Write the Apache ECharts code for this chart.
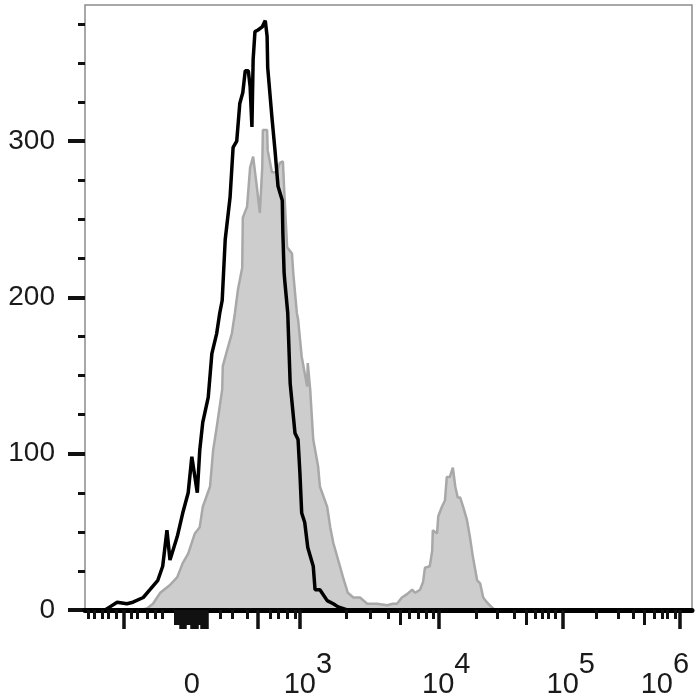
<!DOCTYPE html>
<html>
<head>
<meta charset="utf-8">
<script src="https://cdn.jsdelivr.net/npm/echarts@6/dist/echarts.min.js"></script>
<style>
  html, body { margin: 0; padding: 0; background: #fff; }
  #chart { width: 700px; height: 700px; }
</style>
</head>
<body>
<div id="chart"></div>
<script>
// x is in display channels (0..1000, biexponential display), y is event count
var unstainedX = [0, 33, 41, 53, 69, 79, 96, 107, 120, 128, 135, 140, 152, 161, 170, 176, 185, 189, 194, 203, 209, 217, 222, 226, 231, 239, 244, 250, 255, 260, 264, 269, 272, 275, 277, 280, 285, 292, 297, 300, 301, 308, 313, 318, 325, 326, 328, 329, 334, 338, 346, 351, 354, 357, 362, 367, 376, 379, 387, 399, 409, 417, 432, 1000];
var unstainedY = [0, 0, 2, 5, 4, 5, 8, 13, 19, 28, 51, 32, 47, 62, 75, 98, 75, 102, 120, 136, 164, 177, 190, 198, 237, 264, 296, 300, 324, 331, 345, 345, 335, 309, 352, 370, 371, 373, 377, 367, 347, 315, 294, 271, 262, 241, 216, 211, 190, 145, 113, 109, 88, 62, 56, 40, 28, 13, 13, 6, 4, 2, 0, 0];

var stainedX = [0, 91, 102, 112, 124, 140, 152, 161, 170, 181, 189, 194, 206, 211, 217, 226, 227, 234, 242, 247, 252, 259, 260, 267, 272, 277, 283, 288, 292, 293, 300, 301, 308, 316, 321, 326, 329, 333, 341, 343, 349, 351, 357, 366, 367, 371, 376, 384, 387, 399, 404, 409, 420, 425, 433, 442, 453, 465, 481, 498, 507, 514, 522, 530, 539, 544, 552, 557, 560, 568, 572, 573, 580, 582, 588, 593, 596, 601, 606, 610, 614, 618, 623, 629, 634, 639, 646, 651, 656, 662, 667, 675, 1000];
var stainedY = [0, 0, 1, 4, 11, 16, 21, 30, 36, 49, 53, 66, 79, 102, 117, 141, 156, 166, 177, 190, 205, 219, 251, 258, 283, 290, 271, 254, 283, 307, 307, 294, 280, 280, 286, 287, 262, 232, 228, 216, 190, 186, 162, 143, 158, 141, 109, 92, 79, 66, 53, 43, 28, 21, 11, 8, 8, 4, 4, 3, 4, 4, 8, 10, 13, 11, 13, 18, 27, 28, 38, 51, 49, 60, 66, 70, 85, 85, 91, 79, 72, 72, 66, 58, 47, 34, 19, 17, 8, 5, 3, 0, 0];

// axis ticks, in the same display channels
var xMajorTicks = [64, 157, 159, 161, 163, 165, 176, 178, 180, 182, 184, 193, 195, 197, 199, 201, 285, 354, 582, 787, 980];
var xMediumTicks = [148, 150, 152, 154, 156, 167, 169, 171, 173, 175, 186, 188, 190, 192, 519, 727, 922];
var xMinorTicks = [5, 16, 28, 38, 51, 76, 86, 102, 115, 128, 222, 242, 267, 305, 318, 333, 346, 430, 470, 499, 534, 549, 562, 573, 644, 679, 707, 741, 753, 763, 774, 843, 878, 903, 937, 951, 960, 972];
var xLabelPos = [176, 354, 582, 787, 980];
var xLabelText = ['0', '10^3', '10^4', '10^5', '10^6'];

var yMajorTicks = [0, 100, 200, 300];
var yMinorTicks = [25, 50, 75, 125, 150, 175, 225, 250, 275, 325, 350, 375];

var X_MIN = 0, X_MAX = 1000, Y_MAX = 387;
var FONT = '"Liberation Sans", Arial, sans-serif';
var FS = 29;

function pairs(xs, ys) {
  return xs.map(function (x, i) { return [x, ys[i]]; });
}

function tickAxis(values, len, width, extra) {
  var ax = {
    type: 'value', position: 'bottom', min: X_MIN, max: X_MAX, z: 10,
    axisLine: { show: false },
    splitLine: { show: false },
    axisTick: { show: true, inside: false, length: len, customValues: values,
      lineStyle: { color: '#111', width: width } },
    axisLabel: { show: false }
  };
  return Object.assign(ax, extra || {});
}

var txt = { fontSize: FS, lineHeight: FS, fontFamily: FONT, color: '#1a1a1a' };
function rs(o) { return Object.assign({}, txt, o); }

var xLabel = {
  show: true,
  customValues: xLabelPos,
  margin: 50,
  formatter: function (v) {
    var i = xLabelPos.indexOf(v);
    var t = xLabelText[i];
    if (t.indexOf('^') < 0) return '{b|' + t + '}';
    var parts = t.split('^');
    var last = i === xLabelPos.length - 1;
    return (last ? '' : '{sp| }') + '{b|' + parts[0] + '}{e|' + parts[1] + '}' + (last ? '{pr| }' : '');
  },
  rich: {
    sp: rs({ width: 16, padding: [20, 0, 0, 0] }),
    pr: rs({ width: 30, padding: [20, 0, 0, 0] }),
    b: rs({ padding: [20, 0, 0, 0] }),
    e: rs({ padding: [0, 0, 20, 0] })
  }
};

var chart = echarts.init(document.getElementById('chart'), null, { renderer: 'canvas' });
chart.setOption({
  animation: false,
  backgroundColor: '#ffffff',
  grid: {
    left: 85, right: 8, top: 5, bottom: 90,
    containLabel: false, outerBoundsMode: 'none',
    show: true, borderColor: '#8c8c8c', borderWidth: 1.5, backgroundColor: '#fff'
  },
  xAxis: [
    tickAxis(xMajorTicks, 19, 3.5, {
      axisLine: { show: true, onZero: false, lineStyle: { color: '#000', width: 5 } },
      axisLabel: xLabel
    }),
    tickAxis(xMediumTicks, 15, 3),
    tickAxis(xMinorTicks, 9, 3)
  ],
  yAxis: [
    {
      type: 'value', position: 'left', min: 0, max: Y_MAX,
      axisLine: { show: false },
      splitLine: { show: false },
      axisTick: { show: true, length: 17, customValues: yMajorTicks,
        lineStyle: { color: '#111', width: 4 } },
      axisLabel: { show: true, customValues: yMajorTicks, margin: 30,
        fontSize: 28, fontFamily: FONT, color: '#1a1a1a' }
    },
    {
      type: 'value', position: 'left', min: 0, max: Y_MAX,
      axisLine: { show: false },
      splitLine: { show: false },
      axisTick: { show: true, length: 7, customValues: yMinorTicks,
        lineStyle: { color: '#111', width: 3 } },
      axisLabel: { show: false }
    }
  ],
  series: [
    {
      name: 'stained',
      type: 'line',
      data: pairs(stainedX, stainedY),
      showSymbol: false,
      z: 2,
      lineStyle: { color: '#a8a8a8', width: 2.5 },
      areaStyle: { color: '#cdcdcd', opacity: 1 }
    },
    {
      name: 'control',
      type: 'line',
      data: pairs(unstainedX, unstainedY),
      showSymbol: false,
      z: 3,
      lineStyle: { color: '#000', width: 3.5 }
    }
  ]
});
</script>
</body>
</html>
